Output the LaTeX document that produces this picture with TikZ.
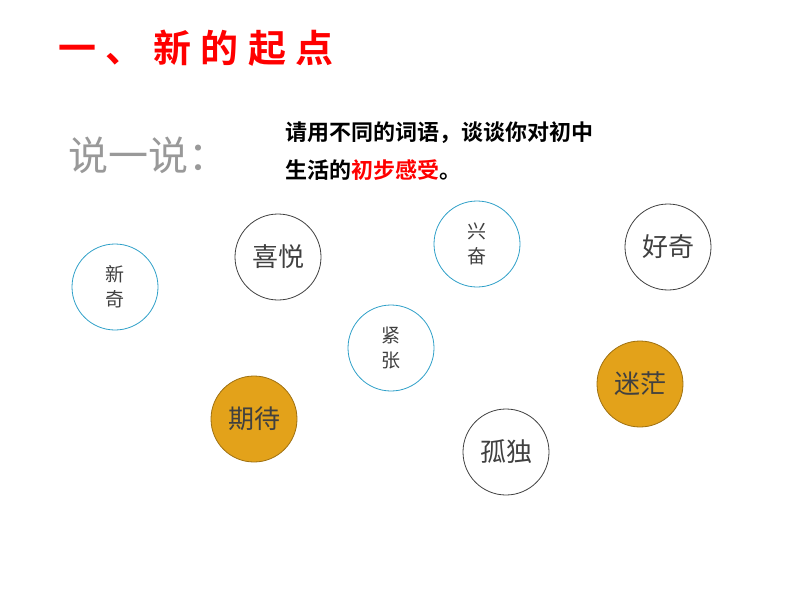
\documentclass[tikz,border=0pt]{standalone}
\usepackage{fontspec}
\setmainfont{Noto Sans CJK SC}[BoldFont={Noto Sans CJK SC Bold}]
\newfontfamily\titlefont{Noto Sans CJK SC Bold}[LetterSpace=25]
\definecolor{cy}{HTML}{2FA0C8}
\definecolor{og}{HTML}{E3A21A}
\definecolor{tx}{HTML}{404040}
\begin{document}
\begin{tikzpicture}[x=1pt,y=-1pt,
  bub/.style={circle,minimum size=86pt,inner sep=0pt,draw=tx,line width=0.8pt,text=tx,font=\fontsize{26}{28}\selectfont},
  bubc/.style={bub,draw=cy,font=\fontsize{19}{25}\selectfont,align=center},
  bubo/.style={bub,fill=og,draw=og!70!black}]
\useasboundingbox (0,0) rectangle (794,596);
\node[anchor=west,text=red,font=\titlefont\fontsize{38}{40}\selectfont,inner sep=0pt] (title) at (58,48) {一、新的起点};
\node[anchor=west,text=gray!80,font=\fontsize{40}{42}\selectfont,inner sep=0pt] (say) at (68,155) {说一说：};
\node[anchor=north west,align=left,font=\fontsize{22}{38}\selectfont\bfseries,inner sep=0pt] (q) at (285,121) {请用不同的词语，谈谈你对初中\\生活的\textcolor{red}{初步感受}。};
\node[bubc] (a) at (115,287) {新\\奇};
\node[bub] (b) at (278,257) {喜悦};
\node[bubc] (c) at (477,244) {兴\\奋};
\node[bub] (d) at (668,247) {好奇};
\node[bubc] (e) at (391,348) {紧\\张};
\node[bubo] (f) at (254,419) {期待};
\node[bubo] (g) at (640,384) {迷茫};
\node[bub] (h) at (506,452) {孤独};
\end{tikzpicture}
\end{document}
